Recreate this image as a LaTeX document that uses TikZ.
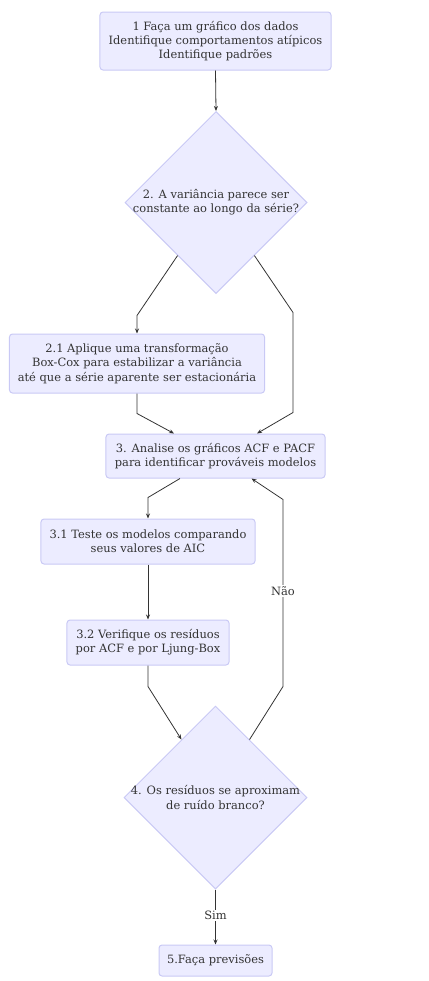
\documentclass[tikz,border=0pt]{standalone}
\usepackage{fontspec}
\setmainfont{DejaVu Serif}
\usetikzlibrary{shapes.geometric,arrows.meta,calc}
\definecolor{nodefill}{HTML}{ECECFF}
\definecolor{nodeline}{HTML}{C9C9F5}
\definecolor{ink}{HTML}{333333}
\tikzset{
  stepbox/.style={draw=nodeline, fill=nodefill, line width=1bp, rounded corners=3bp,
    align=center, text=ink, inner sep=0pt, font=\fontsize{11.5}{14.3}\selectfont},
  choice/.style={draw=nodeline, fill=nodefill, line width=1bp, diamond, aspect=1,
    align=center, text=ink, inner sep=-20bp, font=\fontsize{11.5}{14.3}\selectfont},
  arr/.style={draw=ink, line width=0.8bp, -{Stealth[length=5bp,width=4bp]}},
  lbl/.style={fill=white, text=ink, inner sep=1.5bp, font=\fontsize{11.5}{13}\selectfont}
}
\begin{document}
\begin{tikzpicture}[x=1bp, y=-1bp]
	\useasboundingbox (0,0) rectangle (428,981);
	\node[stepbox, minimum width=231bp, minimum height=58bp] (b1) at (215.5,41) {1 Faça um gráfico dos dados\\Identifique comportamentos atípicos\\Identifique padrões};
	\node[choice, minimum width=182bp, minimum height=182bp] (d2) at (216,202.5) {2. A variância parece ser\\constante ao longo da série?};
	\node[stepbox, minimum width=255bp, minimum height=59bp] (b21) at (137,363.5) {2.1 Aplique uma transformação\\Box-Cox para estabilizar a variância\\até que a série aparente ser estacionária};
	\node[stepbox, minimum width=219bp, minimum height=44bp] (b3) at (215.5,456) {3. Analise os gráficos ACF e PACF\\para identificar prováveis modelos};
	\node[stepbox, minimum width=214bp, minimum height=45bp] (b31) at (148,541.5) {3.1 Teste os modelos comparando\\seus valores de AIC};
	\node[stepbox, minimum width=162bp, minimum height=45bp] (b32) at (148,642.5) {3.2 Verifique os resíduos\\por ACF e por Ljung-Box};
	\node[choice, minimum width=183bp, minimum height=183bp] (d4) at (215.5,797.5) {4. Os resíduos se aproximam\\de ruído branco?};
	\node[stepbox, minimum width=113bp, minimum height=31bp] (b5) at (215.5,960.5) {5.Faça previsões};
	% connectors
	\draw[arr] (b1.south) -- (d2.north);
	\draw[arr] ($(d2.west)!0.58!(d2.south)$) -- ($(b21.north)+(0,-18)$) -- (b21.north);
	\draw[arr] ($(d2.east)!0.58!(d2.south)$) -- ($(b3.north)+(77.5,-121)$) -- ($(b3.north)+(77.5,-21)$) -- ($(b3.north)+(41.5,0)$);
	\draw[arr] (b21.south) -- ($(b21.south)+(0,20)$) -- ($(b3.north)+(-41.5,0)$);
	\draw[arr] ($(b3.south)+(-35.5,0)$) -- ($(b31.north)+(0,-21)$) -- (b31.north);
	\draw[arr] (b31.south) -- (b32.north);
	\draw[arr] (b32.south) -- ($(b32.south)+(0,21)$) -- ($(d4.west)!0.63!(d4.north)$);
	\draw[arr] ($(d4.east)!0.63!(d4.north)$) -- ($(b3.south)+(67.5,208)$) -- node[lbl, pos=0.51] (no) {Não} ($(b3.south)+(67.5,21)$) -- ($(b3.south)+(36,0)$);
	\draw[arr] (d4.south) -- node[lbl, pos=0.47] (yes) {Sim} (b5.north);
\end{tikzpicture}
\end{document}
